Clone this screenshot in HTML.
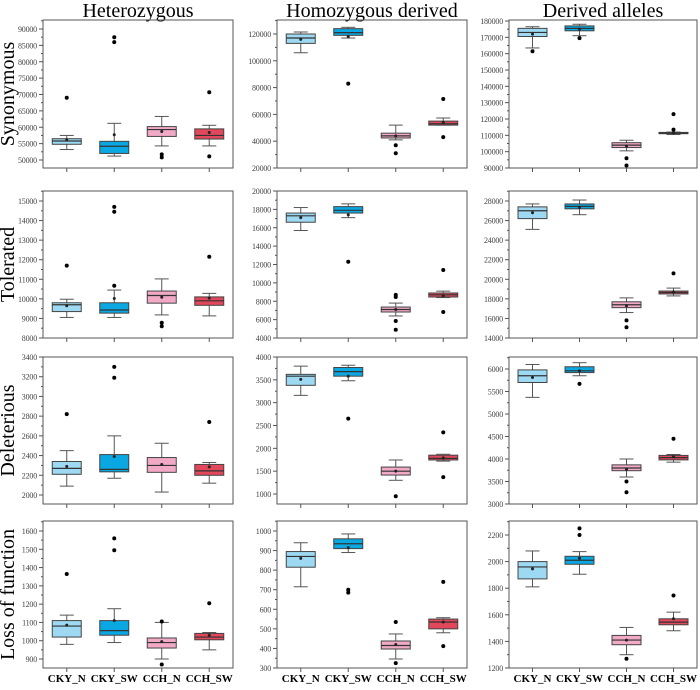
<!DOCTYPE html>
<html><head><meta charset="utf-8"><style>
body{margin:0;background:#fff}
svg text{font-family:"Liberation Serif",serif}
</style></head><body>
<svg id="c" width="700" height="685" xmlns="http://www.w3.org/2000/svg"></svg>
<script>
const categories=["CKY_N","CKY_SW","CCH_N","CCH_SW"];
const columnTitles=["Heterozygous","Homozygous derived","Derived alleles"];
const rowTitles=["Synonymous","Tolerated","Deleterious","Loss of function"];
const colors=["#9dd9f3","#0aa8e2","#f2a9c6","#e2475b"];
const tickSpecs=[
[[50000,90000,5000],[20000,120000,20000],[90000,180000,10000]],
[[8000,15000,1000],[4000,20000,2000],[14000,28000,2000]],
[[2000,3400,200],[1000,4000,500],[3000,6000,500]],
[[900,1600,100],[300,1000,100],[1200,2200,200]]];
// box data: [whiskerLow,q1,median,q3,whiskerHigh,mean,[outliers]]
const syn_het=[[53200,54800,55800,56500,57500,56200,[69000]],[51200,52000,54200,55700,61200,57700,[86000,87500]],[54300,57200,59300,60200,63300,58700,[50800,51700]],[54300,56400,57500,59500,60600,58400,[51100,70700]]];
const syn_hom=[[106000,113000,117000,120000,121500,116000,[]],[117000,119000,121000,124000,125000,118000,[83000]],[41000,42400,44000,46000,52000,44000,[37000,31000]],[52000,52000,53000,55000,57300,54000,[71500,43000]]];
const syn_der=[[163500,170500,173000,175500,176500,172000,[161500]],[171000,174000,175500,177000,178000,175000,[169500]],[100500,102500,104000,105500,107000,103500,[96000,91500]],[110500,111000,111400,111800,112000,111500,[113500,123000]]];
const tol_het=[[9050,9350,9700,9800,9980,9650,[11700]],[9050,9270,9430,9800,10450,10020,[10670,14450,14700]],[9180,9780,10170,10400,11020,10080,[8600,8780]],[9130,9670,9900,10100,10280,10040,[12150]]];
const tol_hom=[[15700,16600,17300,17600,18200,17100,[]],[17100,17600,17900,18300,18600,17400,[12300]],[6400,6830,7100,7370,7800,7100,[8700,8460,5850,4900]],[8400,8460,8700,8900,9100,8600,[11400,6830]]];
const tol_der=[[25100,26200,27000,27400,27700,26800,[]],[26600,27200,27450,27700,28100,27350,[]],[16600,17100,17400,17700,18100,17300,[15800,15100]],[18300,18500,18650,18800,19100,18700,[20600]]];
const del_het=[[2090,2210,2270,2340,2450,2290,[2820]],[2170,2235,2260,2410,2600,2390,[3190,3300]],[2030,2230,2300,2380,2525,2310,[]],[2120,2200,2245,2310,2330,2285,[2740]]];
const del_hom=[[3160,3380,3580,3620,3800,3510,[]],[3480,3580,3680,3770,3820,3580,[2650]],[1300,1415,1500,1590,1745,1500,[950]],[1720,1745,1780,1850,1870,1790,[2350,1370]]];
const del_der=[[5370,5700,5850,5980,6100,5810,[]],[5850,5920,5960,6050,6140,5960,[5670]],[3600,3740,3800,3870,4000,3770,[3500,3260]],[3930,3980,4030,4080,4100,4050,[4450]]];
const lof_het=[[980,1020,1080,1110,1140,1085,[1365]],[990,1030,1055,1110,1175,1110,[1495,1560]],[900,960,990,1015,1100,995,[870,1105]],[950,1005,1020,1040,1045,1030,[1205]]];
const lof_hom=[[715,815,870,895,940,860,[]],[890,910,935,960,985,915,[685,700]],[346,397,415,438,474,420,[535,325]],[480,500,535,550,557,535,[740,412]]];
const lof_der=[[1810,1870,1960,2000,2080,1945,[]],[1905,1980,2010,2040,2075,2025,[2200,2250]],[1300,1375,1410,1445,1505,1410,[1270]],[1480,1525,1545,1570,1620,1570,[1745]]];
const panels=[[syn_het,syn_hom,syn_der],[tol_het,tol_hom,tol_der],[del_het,del_hom,del_der],[lof_het,lof_hom,lof_der]];

const NS="http://www.w3.org/2000/svg";
const svg=document.getElementById("c");
function mk(t,a,p){const e=document.createElementNS(NS,t);for(const k in a)e.setAttribute(k,a[k]);(p||svg).appendChild(e);return e;}
const colX=[[43,233],[277,467],[509,697]];
const rowY=[[20,168],[191,338],[357,504],[521,668]];
const tickPix=[[[160,29],[168,34],[168,21]],[[338,201],[338,191],[338,201]],[[495,357],[494,357],[504,369]],[[659,531],[668,531],[668,535]]];

columnTitles.forEach((t,i)=>{const e=mk("text",{x:(colX[i][0]+colX[i][1])/2,y:17,"text-anchor":"middle","font-size":"20"});e.textContent=t;
});
rowTitles.forEach((t,i)=>{const cy=(rowY[i][0]+rowY[i][1])/2;const e=mk("text",{x:0,y:0,transform:`translate(14,${cy}) rotate(-90)`,"text-anchor":"middle","font-size":"20"});e.textContent=t;
});

for(let r=0;r<4;r++)for(let c=0;c<3;c++){
 const [x0,x1]=colX[c],[y0,y1]=rowY[r];
 const g=mk("g",{});
 
 
 const [tmin,tmax,tstep]=tickSpecs[r][c];const [pmin,pmax]=tickPix[r][c];
 const yS=v=>pmin+(v-tmin)/(tmax-tmin)*(pmax-pmin);
 const xS=i=>x0+(i+0.5)*(x1-x0)/4;
 mk("rect",{x:x0,y:y0,width:x1-x0,height:y1-y0,fill:"none",stroke:"#555","stroke-width":1},g);
 for(let v=tmin;v<=tmax+1e-9;v+=tstep){const y=yS(v);mk("line",{x1:x0-4,x2:x0,y1:y,y2:y,stroke:"#555"},g);
  const t=mk("text",{x:x0-6,y:y+3,"text-anchor":"end","font-size":"8","letter-spacing":"-0.2",fill:"#444"},g);t.textContent=v;
  
  const ym=yS(v+tstep/2);if(ym>y0&&ym<y1)mk("line",{x1:x0-2,x2:x0,y1:ym,y2:ym,stroke:"#555"},g);}
 const yb=yS(tmin-tstep/2);if(yb<y1&&yb>y0)mk("line",{x1:x0-2,x2:x0,y1:yb,y2:yb,stroke:"#555"},g);
 panels[r][c].forEach((d,i)=>{
  const x=xS(i),w=29;
  const b=mk("g",{},g);
  
  
  mk("line",{x1:x,x2:x,y1:y1,y2:y1+4,stroke:"#555"},g);
  mk("line",{x1:x,x2:x,y1:yS(d[0]),y2:yS(d[4]),stroke:"#555"},b);
  mk("line",{x1:x-7,x2:x+7,y1:yS(d[0]),y2:yS(d[0]),stroke:"#555"},b);
  mk("line",{x1:x-7,x2:x+7,y1:yS(d[4]),y2:yS(d[4]),stroke:"#555"},b);
  mk("rect",{x:x-w/2,y:yS(d[3]),width:w,height:Math.max(1,yS(d[1])-yS(d[3])),fill:colors[i],stroke:"#444"},b);
  mk("line",{x1:x-w/2,x2:x+w/2,y1:yS(d[2]),y2:yS(d[2]),stroke:"#333","stroke-width":1.2},b);
  mk("circle",{cx:x,cy:yS(d[5]),r:1.5,fill:"#222"},b);
  d[6].forEach(o=>mk("circle",{cx:x,cy:yS(o),r:2,fill:"#000"},b));
  if(r===3){const t=mk("text",{x:x,y:682,"text-anchor":"middle","font-size":"11","font-weight":"bold"},svg);t.textContent=categories[i];
   }
 });
}
</script>
</body></html>
